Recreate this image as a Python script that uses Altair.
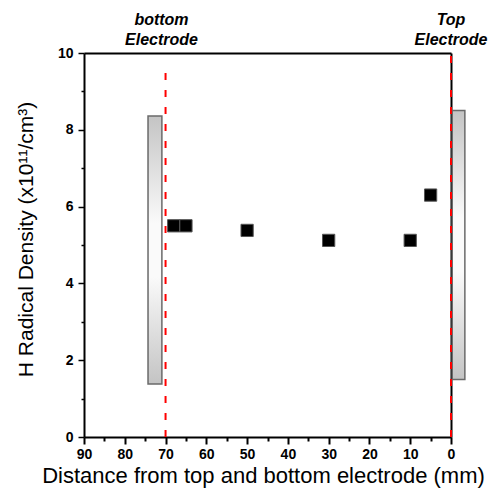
import altair as alt
import pandas as pd

# measured points
distance = [68, 65, 50, 30, 10, 5]
density = [5.5, 5.5, 5.38, 5.12, 5.12, 6.3]

# electrode plates (x from, x to, y from, y to)
plate_x1 = [74.3, -0.3]
plate_x2 = [70.9, -3.4]
plate_y1 = [1.38, 1.5]
plate_y2 = [8.36, 8.5]

# electrode positions (dashed lines)
electrode_pos = [70, 0]
electrode_top = [9.7, 10]

# labels
label_x = [71, 0]
label_text = [["bottom", "Electrode"], ["Top", "Electrode"]]

x_ticks = [0, 5, 10, 15, 20, 25, 30, 35, 40, 45, 50, 55, 60, 65, 70, 75, 80, 85, 90]
y_ticks = [0, 1, 2, 3, 4, 5, 6, 7, 8, 9, 10]

FONT = "Liberation Sans"

pts = pd.DataFrame({"d": distance, "n": density})
plates = pd.DataFrame({"x1": plate_x1, "x2": plate_x2, "y1": plate_y1, "y2": plate_y2})
lines = pd.DataFrame({"x": electrode_pos, "y2": electrode_top, "y": [0, 0]})
labels = pd.DataFrame({"x": label_x, "t": label_text})

xscale = alt.Scale(domain=[90, 0], nice=False, zero=False)
yscale = alt.Scale(domain=[0, 10], nice=False)

xaxis = alt.Axis(values=x_ticks, title="Distance from top and bottom electrode (mm)",
                 labelExpr="datum.value % 10 === 0 ? datum.label : ''",
                 titleFontSize=22, titleFontWeight="normal", titleFont=FONT, titleColor="black",
                 titlePadding=4, titleX=179,
                 labelFont=FONT, labelFontSize=14, labelFontWeight="bold", labelColor="black",
                 labelPadding=3,
                 tickSize={"condition": {"test": "datum.value % 10 === 0", "value": 7}, "value": 4},
                 tickWidth=2, tickColor="black",
                 domainColor="black", domainWidth=2, grid=False, labelFlush=False)
yaxis = alt.Axis(values=y_ticks, title="H Radical Density (x10¹¹/cm³)",
                 labelExpr="datum.value % 2 === 0 ? datum.label : ''",
                 titleFontSize=21, titleFontWeight="normal", titleFont=FONT, titleColor="black",
                 titlePadding=21, titleY=186,
                 labelFont=FONT, labelFontSize=14, labelFontWeight="bold", labelColor="black",
                 labelPadding=5,
                 tickSize={"condition": {"test": "datum.value % 2 === 0", "value": 6}, "value": 3},
                 tickWidth=1.5, tickColor="black",
                 domainColor="black", domainWidth=2, grid=False, labelFlush=False)

frame_x = alt.Axis(orient="top", ticks=False, labels=False, title=None, domainColor="black",
                   domainWidth=2, grid=False)
frame_y = alt.Axis(orient="right", ticks=False, labels=False, title=None, domainColor="black",
                   domainWidth=2, grid=False)

grad = alt.Gradient(gradient="linear", x1=0, x2=0, y1=0, y2=1,
                    stops=[alt.GradientStop(color="#c4c4c4", offset=0),
                           alt.GradientStop(color="#fafafa", offset=0.4),
                           alt.GradientStop(color="#fafafa", offset=0.6),
                           alt.GradientStop(color="#c4c4c4", offset=1)])

plate = alt.Chart(plates).mark_rect(fill=grad, stroke="#6a6a6a", strokeWidth=1.5).encode(
    x=alt.X("x1:Q", scale=xscale, axis=xaxis), x2="x2:Q",
    y=alt.Y("y1:Q", scale=yscale, axis=yaxis), y2="y2:Q",
)

points = alt.Chart(pts).mark_square(size=150, color="black", opacity=1,
                                    stroke="#555555", strokeWidth=1).encode(
    x=alt.X("d:Q", scale=xscale, axis=xaxis),
    y=alt.Y("n:Q", scale=yscale, axis=yaxis),
)

text = alt.Chart(labels).mark_text(font=FONT, fontSize=16, fontWeight="bold", fontStyle="italic",
                                   color="black", align="center", baseline="middle",
                                   lineHeight=20).encode(
    x=alt.X("x:Q", scale=xscale, axis=xaxis),
    y=alt.value(-33),
    text="t",
)

base = alt.layer(plate, points, text)

dashed = alt.Chart(lines).mark_rule(color="#ff0000", strokeWidth=2, strokeDash=[7, 10]).encode(
    x=alt.X("x:Q", scale=xscale, axis=frame_x),
    y=alt.Y("y:Q", scale=yscale, axis=frame_y), y2="y2:Q",
)

chart = alt.layer(base, dashed).resolve_scale(
    x="independent", y="independent"
).resolve_axis(x="independent", y="independent").properties(
    width=367, height=384,
    autosize=alt.AutoSizeParams(type="none"),
    padding={"left": 84, "top": 53, "right": 41, "bottom": 51},
).configure_view(stroke=None)

chart.save("out.html", embed_options={"renderer": "svg", "actions": False})
